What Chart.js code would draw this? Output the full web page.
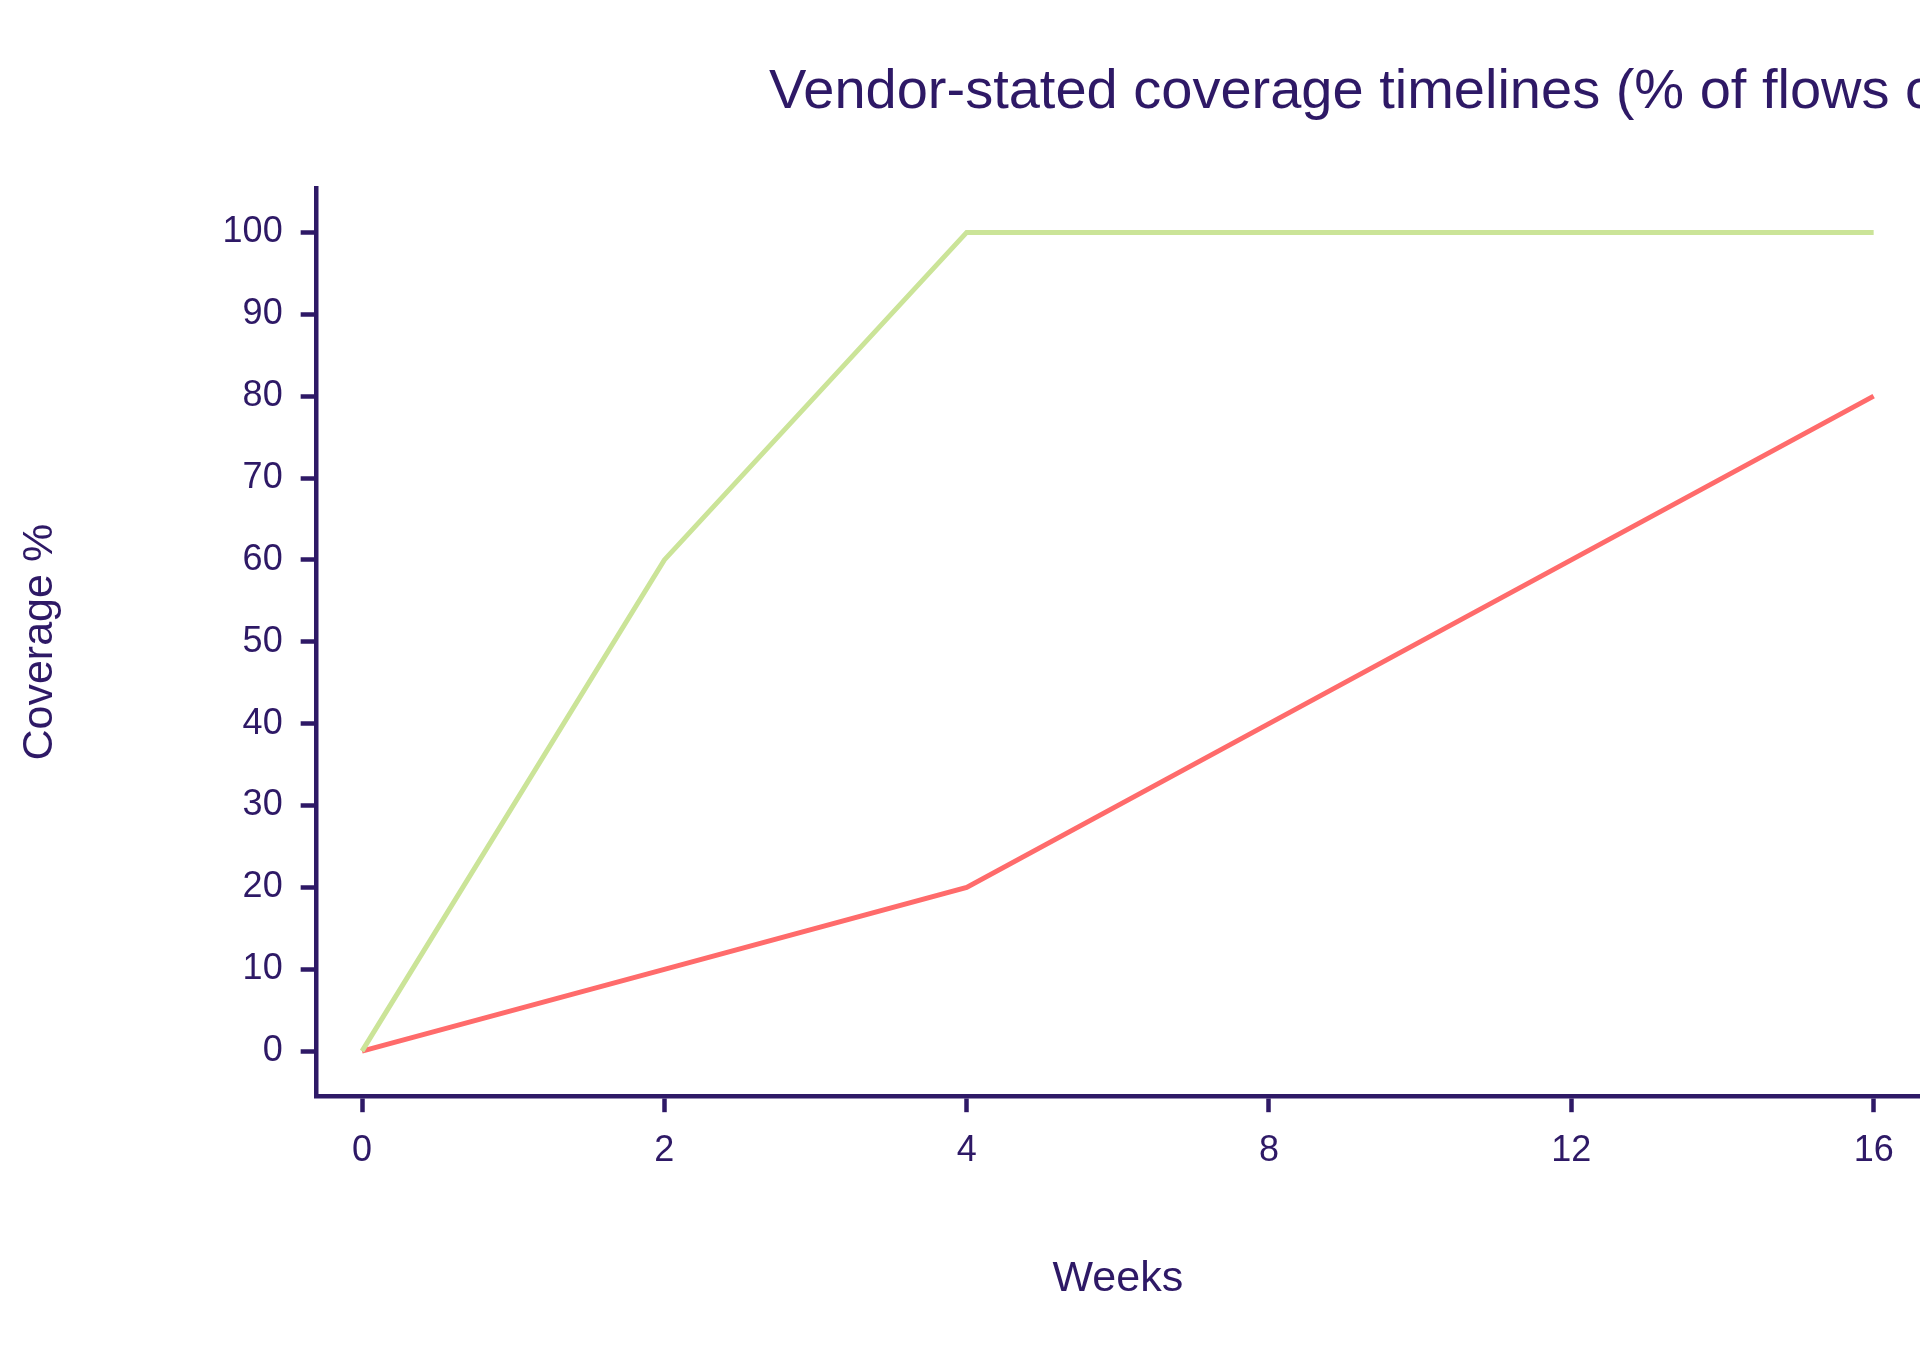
<!DOCTYPE html>
<html>
<head>
<meta charset="utf-8">
<script src="https://cdn.jsdelivr.net/npm/chart.js@4.4.1/dist/chart.umd.min.js"></script>
<style>
  html, body { margin: 0; padding: 0; background: #fff; overflow: hidden; }
  #wrap { width: 2892px; height: 1371px; }
</style>
</head>
<body>
<div id="wrap"><canvas id="coverageChart"></canvas></div>
<script>
// data
const weekLabels = ['0', '2', '4', '8', '12', '16'];
const vendorA = [0, 60, 100, 100, 100, 100];
const vendorB = [0, 10, 20, 40, 60, 80];
const yTickValues = [0, 10, 20, 30, 40, 50, 60, 70, 80, 90, 100];

const ink = '#2e1966';
const greenColor = '#cbe498';
const redColor = '#ff6b6b';
const fontFamily = '"Liberation Sans", Arial, sans-serif';
const canvasWidth = 2892;

const toPoints = (arr) => arr.map((v, i) => ({ x: i, y: v }));

const axisGrid = {
  display: true,
  drawOnChartArea: false,
  drawTicks: true,
  tickLength: 16,
  tickWidth: 4.5,
  tickColor: ink,
};

const config = {
  type: 'line',
  data: {
    datasets: [{
      data: toPoints(vendorA),
      borderColor: greenColor,
      borderWidth: 5,
      pointRadius: 0,
      tension: 0,
    }, {
      data: toPoints(vendorB),
      borderColor: redColor,
      borderWidth: 5,
      pointRadius: 0,
      tension: 0,
    }]
  },
  options: {
    responsive: true,
    maintainAspectRatio: false,
    animation: false,
    layout: { padding: { left: 0, right: 0, top: 0, bottom: 66 } },
    plugins: {
      legend: { display: false },
      tooltip: { enabled: false },
      title: {
        display: true,
        text: 'Vendor-stated coverage timelines (% of flows covered)',
        color: ink,
        font: { family: fontFamily, size: 56, weight: 'normal', lineHeight: 1.2 },
        padding: { top: 59, bottom: 62 },
      }
    },
    scales: {
      x: {
        type: 'linear',
        min: -0.15,
        max: 5.15,
        afterBuildTicks: (scale) => {
          scale.ticks = weekLabels.map((_, i) => ({ value: i }));
        },
        ticks: {
          color: ink,
          font: { family: fontFamily, size: 36 },
          padding: 17,
          maxRotation: 0,
          autoSkip: false,
          callback: (value) => weekLabels[value],
        },
        grid: axisGrid,
        border: { display: true, color: ink, width: 4.5 },
        title: {
          display: true,
          text: 'Weeks',
          color: ink,
          font: { family: fontFamily, size: 43, lineHeight: 1.2 },
          padding: { top: 64, bottom: 0 },
        }
      },
      y: {
        type: 'linear',
        min: -5.5,
        max: 105.4,
        afterBuildTicks: (scale) => {
          scale.ticks = yTickValues.map(v => ({ value: v }));
        },
        ticks: {
          color: ink,
          font: { family: fontFamily, size: 36 },
          padding: 18,
        },
        grid: axisGrid,
        border: { display: true, color: ink, width: 4.5 },
        title: {
          display: true,
          text: 'Coverage %',
          color: ink,
          font: { family: fontFamily, size: 43, lineHeight: 1.2 },
          padding: { top: 14, bottom: 139 },
        }
      },
      // empty space on the right (off screen in the reference)
      spacer: {
        type: 'linear',
        position: 'right',
        display: true,
        grid: { display: false },
        border: { display: false },
        ticks: { display: false },
        afterFit: (scale) => { scale.width = canvasWidth - 1919; },
      }
    }
  }
};

const coverageChart = new Chart(document.getElementById('coverageChart'), config);
</script>
</body>
</html>
